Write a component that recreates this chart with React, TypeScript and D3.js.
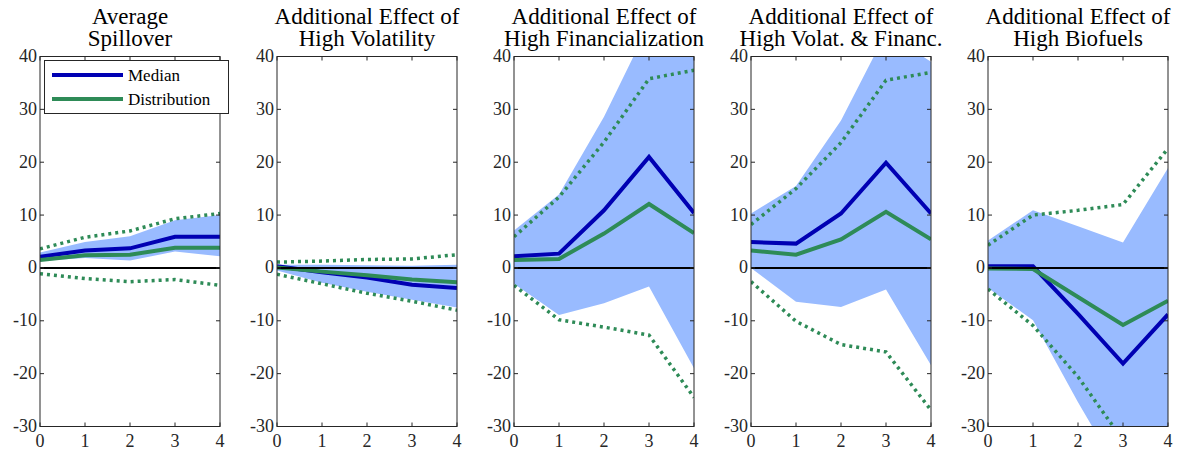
import React from 'react';
import * as d3 from 'd3';

// horizons
const steps = [0, 1, 2, 3, 4];

const titles = [
  ['Average', 'Spillover'],
  ['Additional Effect of', 'High Volatility'],
  ['Additional Effect of', 'High Financialization'],
  ['Additional Effect of', 'High Volat. & Financ.'],
  ['Additional Effect of', 'High Biofuels'],
];

// solid blue line
const median = [
  [2.1, 3.3, 3.7, 5.9, 5.9],
  [0.3, -0.8, -1.8, -3.2, -3.8],
  [2.2, 2.7, 10.9, 21.0, 10.4],
  [4.9, 4.6, 10.3, 19.9, 10.3],
  [0.3, 0.3, -8.7, -18.1, -8.8],
];

// solid green line
const distribution = [
  [1.5, 2.4, 2.5, 3.8, 3.8],
  [0.1, -0.7, -1.4, -2.2, -2.7],
  [1.5, 1.7, 6.5, 12.1, 6.6],
  [3.3, 2.5, 5.4, 10.6, 5.4],
  [-0.1, -0.2, -5.5, -10.8, -6.2],
];

// shaded band
const bandHigh = [
  [2.9, 4.9, 6.0, 9.0, 10.0],
  [0.6, 0.6, 0.5, 0.4, 0.6],
  [7.1, 13.9, 28.6, 46.0, 44.0],
  [10.3, 15.5, 27.9, 44.5, 39.0],
  [5.2, 10.9, 7.9, 4.8, 18.9],
];
const bandLow = [
  [1.3, 1.9, 1.4, 3.1, 2.2],
  [-0.5, -2.8, -4.5, -6.0, -7.5],
  [-3.0, -8.9, -6.7, -3.5, -19.0],
  [0.0, -6.4, -7.4, -4.1, -18.4],
  [-3.8, -9.9, -25.4, -40.0, -40.0],
];

// dotted green lines
const distHigh = [
  [3.6, 5.8, 7.0, 9.3, 10.3],
  [1.1, 1.3, 1.6, 1.7, 2.5],
  [5.9, 13.4, 23.8, 35.8, 37.4],
  [8.2, 15.0, 23.7, 35.5, 37.0],
  [4.3, 10.0, 10.9, 12.0, 22.6],
];
const distLow = [
  [-1.1, -2.0, -2.6, -2.2, -3.3],
  [-1.2, -3.0, -4.8, -6.3, -8.0],
  [-3.3, -9.8, -11.2, -12.7, -24.5],
  [-2.6, -10.1, -14.5, -15.9, -26.9],
  [-4.0, -10.9, -20.6, -32.6, -36.0],
];

const yTicks = [-30, -20, -10, 0, 10, 20, 30, 40];

const BLUE = '#0000b3';
const GREEN = '#2e8b57';
const BAND = '#99bbff';
const AXIS = '#262626';
const FONT = 'Liberation Serif';

const panelLeft = [40, 277, 514, 751, 988];
const panelW = 180;
const top = 56.5;
const bottom = 426.5;

const App = () => {
  const y = d3.scaleLinear().domain([-30, 40]).range([bottom, top]);

  return (
    <svg width={1185} height={453} style={{ position: 'absolute', left: 0, top: 0 }}>
      <rect width={1185} height={453} fill="#fff" />
      {titles.map((t, p) => {
        const x = d3.scaleLinear().domain([0, 4]).range([panelLeft[p], panelLeft[p] + panelW]);
        const line = d3.line<number>().x((d, i) => x(steps[i])).y(d => y(d));
        const area = d3.area<number>()
          .x((d, i) => x(steps[i]))
          .y0((d, i) => y(bandLow[p][i]))
          .y1(d => y(d));
        const cx = panelLeft[p] + panelW / 2;
        return (
          <g key={p}>
            <defs>
              <clipPath id={`clip${p}`}>
                <rect x={panelLeft[p]} y={top} width={panelW} height={bottom - top} />
              </clipPath>
            </defs>
            <text x={cx} y={23.5} textAnchor="middle" fontFamily={FONT} fontSize={23} fill="#000">{t[0]}</text>
            <text x={cx} y={46} textAnchor="middle" fontFamily={FONT} fontSize={23} fill="#000">{t[1]}</text>
            <g clipPath={`url(#clip${p})`}>
              <path d={area(bandHigh[p]) || ''} fill={BAND} />
              <path d={line(distHigh[p]) || ''} fill="none" stroke={GREEN} strokeWidth={3.5} strokeDasharray="3,4" />
              <path d={line(distLow[p]) || ''} fill="none" stroke={GREEN} strokeWidth={3.5} strokeDasharray="3,4" />
              <path d={line(median[p]) || ''} fill="none" stroke={BLUE} strokeWidth={4} />
              <path d={line(distribution[p]) || ''} fill="none" stroke={GREEN} strokeWidth={4} />
              <line x1={x(0)} x2={x(4)} y1={y(0)} y2={y(0)} stroke="#000" strokeWidth={2} />
            </g>
            <rect x={panelLeft[p]} y={top} width={panelW} height={bottom - top} fill="none" stroke={AXIS} strokeWidth={1} />
            {yTicks.map(v => (
              <g key={v}>
                <line x1={x(0)} x2={x(0) + 4} y1={y(v)} y2={y(v)} stroke={AXIS} />
                <line x1={x(4)} x2={x(4) - 4} y1={y(v)} y2={y(v)} stroke={AXIS} />
                <text x={x(0) - 3} y={y(v) + 5.5} textAnchor="end" fontFamily={FONT} fontSize={18} fill="#262626">
                  {v < 0 ? `-${-v}` : v}
                </text>
              </g>
            ))}
            {steps.map(s => (
              <g key={s}>
                <line x1={x(s)} x2={x(s)} y1={bottom} y2={bottom - 4} stroke={AXIS} />
                <line x1={x(s)} x2={x(s)} y1={top} y2={top + 4} stroke={AXIS} />
                <text x={x(s)} y={446.5} textAnchor="middle" fontFamily={FONT} fontSize={18} fill="#262626">{s}</text>
              </g>
            ))}
          </g>
        );
      })}
      <g>
        <rect x={44.5} y={60.5} width={184} height={53} fill="#fff" stroke={AXIS} strokeWidth={1} />
        <line x1={52} x2={123} y1={75} y2={75} stroke={BLUE} strokeWidth={4} />
        <text x={128} y={80.5} fontFamily={FONT} fontSize={17} fill="#000">Median</text>
        <line x1={52} x2={123} y1={99} y2={99} stroke={GREEN} strokeWidth={4} />
        <text x={128} y={104.5} fontFamily={FONT} fontSize={17} fill="#000">Distribution</text>
      </g>
    </svg>
  );
};

export default App;
